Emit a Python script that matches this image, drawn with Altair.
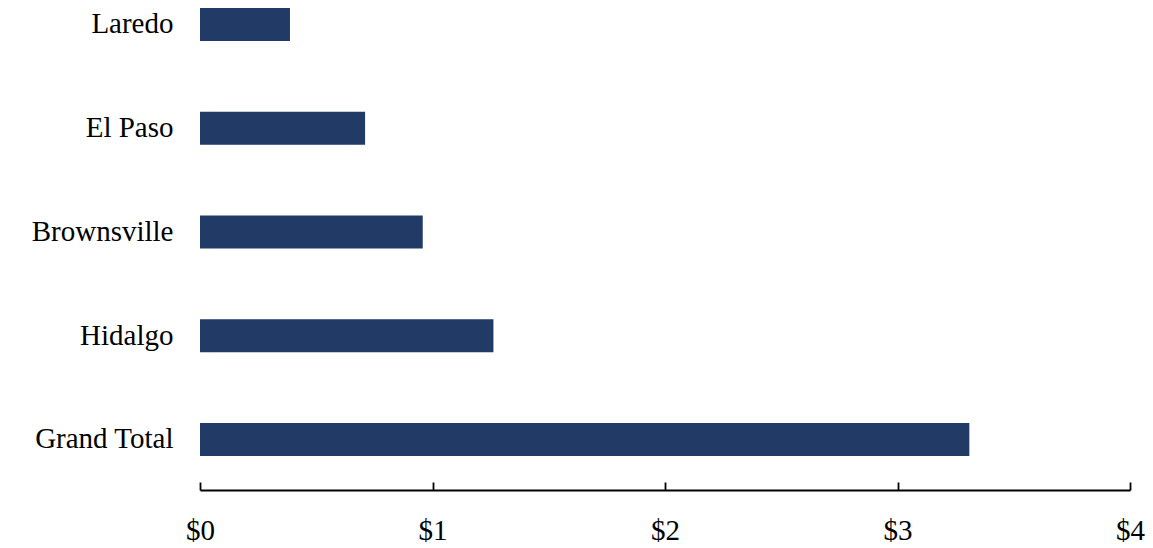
import altair as alt
import pandas as pd

ports = ["Laredo", "El Paso", "Brownsville", "Hidalgo", "Grand Total"]
values = [0.387, 0.71, 0.958, 1.262, 3.309]
x_ticks = [0, 1, 2, 3, 4]

df = pd.DataFrame({"port": ports, "value": values})

FONT = "Liberation Serif"
FS = 29

y_enc = alt.Y(
    "port:N",
    sort=ports,
    title=None,
    scale=alt.Scale(paddingInner=0.682, paddingOuter=0.164, align=0),
    axis=alt.Axis(
        domain=False,
        ticks=False,
        grid=False,
        labelFont=FONT,
        labelFontSize=FS,
        labelColor="#000000",
        labelPadding=27,
    ),
)

x_scale = alt.Scale(domain=[0, 4], nice=False)

bars = alt.Chart(df).mark_bar(color="#223A66").encode(
    x=alt.X(
        "value:Q",
        scale=x_scale,
        title=None,
        axis=alt.Axis(
            orient="bottom",
            values=x_ticks,
            domain=False,
            ticks=False,
            grid=False,
            labelFont=FONT,
            labelFontSize=FS,
            labelColor="#000000",
            labelPadding=26,
            labelFlush=False,
            labelExpr="'$' + datum.value",
        ),
    ),
    y=y_enc,
)

tick_axis = alt.Chart(df).mark_bar(opacity=0).encode(
    x=alt.X(
        "value:Q",
        scale=x_scale,
        title=None,
        axis=alt.Axis(
            orient="top",
            offset=-482,
            values=x_ticks,
            labels=False,
            grid=False,
            domain=True,
            domainColor="#000000",
            domainWidth=1.8,
            ticks=True,
            tickColor="#000000",
            tickWidth=1.8,
            tickSize=8,
        ),
    ),
    y=y_enc,
)

chart = (
    alt.layer(bars, tick_axis)
    .resolve_axis(x="independent")
    .properties(
        width=930,
        height=482,
        background="#ffffff",
        autosize=alt.AutoSizeParams(type="none"),
        padding={"left": 192, "top": 0, "right": 15, "bottom": 58},
    )
    .configure_view(stroke="transparent", strokeWidth=0)
)

chart.save("out.html", embed_options={"renderer": "svg", "actions": False})
